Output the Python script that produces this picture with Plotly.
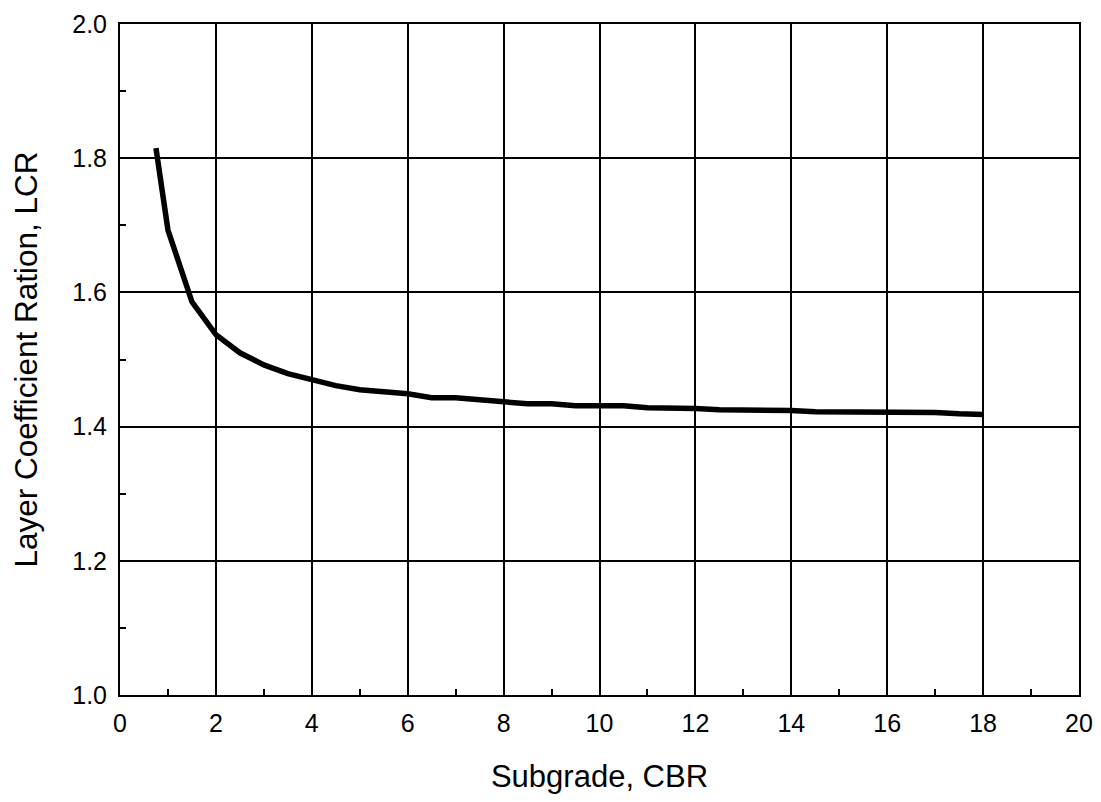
import plotly.graph_objects as go

cbr = [0.75, 1, 1.5, 2, 2.5, 3, 3.5, 4, 4.5, 5, 5.5, 6, 6.5, 7, 7.5, 8, 8.5, 9, 9.5,
       10, 10.5, 11, 11.5, 12, 12.5, 13, 13.5, 14, 14.5, 15, 15.5, 16, 16.5, 17, 17.5, 18]
lcr = [1.815, 1.693, 1.586, 1.537, 1.51, 1.492, 1.479, 1.469, 1.461, 1.455, 1.452, 1.449,
       1.443, 1.443, 1.44, 1.437, 1.434, 1.434, 1.431, 1.431, 1.431, 1.428, 1.428, 1.427,
       1.425, 1.425, 1.425, 1.424, 1.422, 1.422, 1.422, 1.421, 1.421, 1.421, 1.419, 1.418]

x_ticks = [0, 2, 4, 6, 8, 10, 12, 14, 16, 18, 20]
y_ticks = [1.0, 1.2, 1.4, 1.6, 1.8, 2.0]
y_tick_text = ["1.0", "1.2", "1.4", "1.6", "1.8", "2.0"]

FONT = "Liberation Sans, Arial, sans-serif"

fig = go.Figure()
fig.add_trace(go.Scatter(x=cbr, y=lcr, mode="lines",
                         line=dict(color="black", width=5.5),
                         showlegend=False))

axis_common = dict(
    showline=True, linecolor="black", linewidth=2, mirror=True,
    showgrid=True, gridcolor="black", gridwidth=1.6,
    ticks="inside", ticklen=6, tickwidth=1.5, tickcolor="black",
    zeroline=False, automargin=False,
    tickfont=dict(family=FONT, size=25, color="black"),
)

fig.update_xaxes(
    range=[0, 20], tickvals=x_ticks,
    minor=dict(ticks="inside", ticklen=6, tickwidth=1.5, tickcolor="black", dtick=1, showgrid=False),
    title=dict(text="Subgrade, CBR", font=dict(family=FONT, size=31, color="black"), standoff=29),
    ticklabelstandoff=5,
    **axis_common,
)
fig.update_yaxes(
    range=[1.0, 2.0], tickvals=y_ticks, ticktext=y_tick_text,
    minor=dict(ticks="inside", ticklen=6, tickwidth=1.5, tickcolor="black", dtick=0.1, showgrid=False),
    title=dict(text="Layer Coefficient Ration, LCR", font=dict(family=FONT, size=31.5, color="black"), standoff=30),
    ticklabelstandoff=6,
    **axis_common,
)

fig.update_layout(
    width=1093, height=794,
    margin=dict(l=112, r=22, t=16, b=107, autoexpand=False),
    plot_bgcolor="white", paper_bgcolor="white",
    font=dict(family=FONT, color="black"),
)

fig.write_html("out.html")
